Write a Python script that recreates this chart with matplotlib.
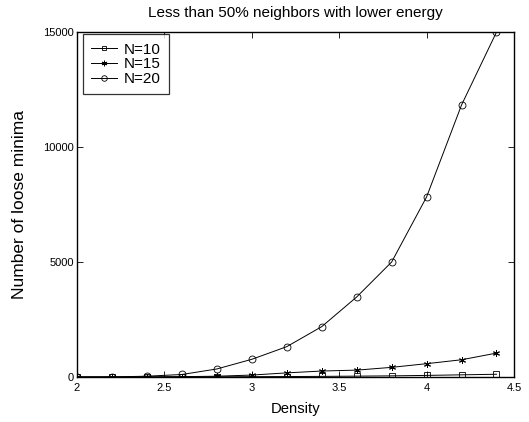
import matplotlib.pyplot as plt

plt.rcParams['font.family'] = ['Liberation Sans', 'DejaVu Sans']

density = [2.0, 2.2, 2.4, 2.6, 2.8, 3.0, 3.2, 3.4, 3.6, 3.8, 4.0, 4.2, 4.4]
n10 = [0, 0, 2, 5, 10, 15, 20, 28, 38, 50, 70, 95, 120]
n15 = [0, 1, 5, 15, 35, 85, 180, 260, 300, 420, 580, 750, 1040]
n20 = [0, 5, 35, 110, 350, 770, 1320, 2190, 3480, 5000, 7830, 11830, 15000]

fig = plt.figure(figsize=(5.29, 4.22), dpi=100)
ax = fig.add_axes([0.1456, 0.1066, 0.826, 0.8174])

# matlab-style asterisk: 6-point star made of lines
asterisk = (6, 2, 0)
ax.plot(density, n10, color='black', lw=0.7, marker='s', ms=3.8, mfc='none', mew=0.6, label='N=10')
ax.plot(density, n15, color='black', lw=0.7, marker=asterisk, ms=5, mew=0.7, label='N=15')
ax.plot(density, n20, color='black', lw=0.7, marker='o', ms=5, mfc='none', mew=0.6, label='N=20')

ax.set_xlim(2, 4.5)
ax.set_ylim(0, 15000)
ax.set_xticks([2, 2.5, 3, 3.5, 4, 4.5])
ax.set_xticklabels(['2', '2.5', '3', '3.5', '4', '4.5'])
ax.set_yticks([0, 5000, 10000, 15000])
ax.tick_params(direction='in', top=True, right=True, labelsize=8, length=4, width=0.6, pad=2)
ax.tick_params(axis='x', pad=4)
for s in ax.spines.values():
    s.set_linewidth(1.0)

ax.set_xlabel('Density', fontsize=10.7, labelpad=7)
ax.set_ylabel('Number of loose minima', fontsize=12.5, labelpad=12)
ax.set_title('Less than 50% neighbors with lower energy', fontsize=11, pad=11)

leg = ax.legend(loc='upper left', bbox_to_anchor=(0.0137, 0.994), fontsize=11,
                frameon=True, fancybox=False, edgecolor='black',
                handlelength=1.7, borderpad=0.55, labelspacing=0.05,
                handletextpad=0.4, borderaxespad=0, markerscale=0.8)
leg.get_frame().set_linewidth(0.9)

fig.savefig('out.png', dpi=100)
